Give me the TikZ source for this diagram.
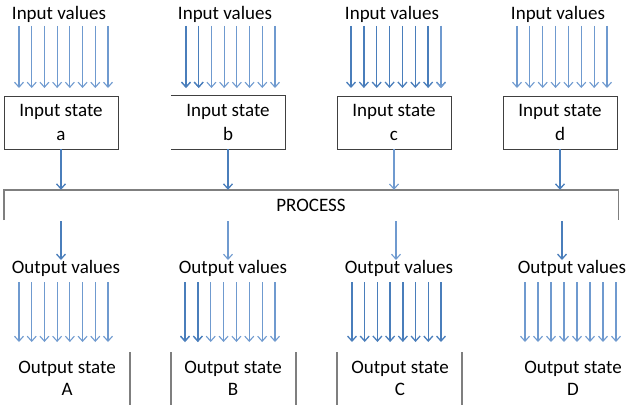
\documentclass[tikz,border=0pt]{standalone}
\usepackage{fontspec}
\setmainfont{Carlito}
\usetikzlibrary{arrows.meta}
\definecolor{arrA}{HTML}{4A7EBB}
\definecolor{arrB}{HTML}{6F9ACF}
\definecolor{boxgray}{HTML}{404040}
\definecolor{brgray}{HTML}{7F7F7F}
\tikzset{
  lbl/.style={font=\fontsize{19}{24}\selectfont, inner sep=0pt},
  stbox/.style={lbl, minimum width=114pt, minimum height=53pt, align=center},
  flow/.style={arrA, line width=1.3pt, -{Straight Barb[length=5pt,width=9pt]}},
  flowl/.style={arrB, line width=1.1pt, -{Straight Barb[length=5pt,width=9pt]}},
  edge/.style={boxgray, line width=0.9pt},
  sep/.style={brgray, line width=1.4pt},
}
\begin{document}
\begin{tikzpicture}[x=1pt,y=-1pt]
\useasboundingbox (0,0) rectangle (634,412);
% input labels
\node[lbl] (iva) at (59,14) {Input values};
\node[lbl] (ivb) at (225,14) {Input values};
\node[lbl] (ivc) at (392,14) {Input values};
\node[lbl] (ivd) at (558,14) {Input values};
% input boxes
\node[stbox,draw=boxgray,line width=0.9pt] (sa) at (61,122.5) {Input state\\a};
\node[stbox] (sb) at (228,122.5) {Input state\\b};
\draw[edge] (sb.north west) -- (sb.north east) -- (sb.south east) -- (sb.south west);
\node[stbox,draw=boxgray,line width=0.9pt] (sc) at (394,122.5) {Input state\\c};
\node[stbox,draw=boxgray,line width=0.9pt] (sd) at (560,122.5) {Input state\\d};
% input arrows
\foreach \g/\xs/\xe/\c in {a/19/108/flowl, b/186/275/flowl, c/351/441/flow, d/517/607/flowl}{
  \foreach \i in {0,...,7}{
    \pgfmathsetmacro{\xx}{\xs+\i*(\xe-\xs)/7}
    \coordinate (in\g\i) at (\xx,26);
    \coordinate (it\g\i) at (\xx,88);
    \draw[\c] (in\g\i) -- (it\g\i);
  }
}
\draw[flow] (inb0) -- (itb0);
\draw[flow] (inb1) -- (itb1);
\draw[flowl] (inc7) -- (itc7);
% process
\node[lbl, minimum width=614pt, minimum height=30pt] (proc) at (311,205) {PROCESS};
\draw[sep] (proc.south west) -- (proc.north west) -- (proc.north east) -- (proc.south east);
\draw[flow] (sa.south) -- (sa.south |- proc.north);
\draw[flow] (sb.south) -- (sb.south |- proc.north);
\draw[flowl] (sc.south) -- (sc.south |- proc.north);
\draw[flow] (sd.south) -- (sd.south |- proc.north);
% output labels
\node[lbl] (ova) at (66,268) {Output values};
\node[lbl] (ovb) at (233,268) {Output values};
\node[lbl] (ovc) at (399,268) {Output values};
\node[lbl] (ovd) at (572,268) {Output values};
\draw[flow] (61,221) coordinate (pa) -- (61,260) coordinate (qa);
\draw[flowl] (228,221) coordinate (pb) -- (228,260) coordinate (qb);
\draw[flowl] (396,221) coordinate (pc) -- (396,260) coordinate (qc);
\draw[flow] (562,221) coordinate (pd) -- (562,260) coordinate (qd);
% output arrows
\foreach \g/\xs/\xe/\c in {a/19/108/flowl, b/185/275/flowl, c/352/441/flow, d/525/616/flowl}{
  \foreach \i in {0,...,7}{
    \pgfmathsetmacro{\xx}{\xs+\i*(\xe-\xs)/7}
    \coordinate (on\g\i) at (\xx,282);
    \coordinate (ot\g\i) at (\xx,342);
    \draw[\c] (on\g\i) -- (ot\g\i);
  }
}
\draw[flow] (onb0) -- (otb0);
\draw[flow] (onb1) -- (otb1);
% output states
\node[lbl, font=\fontsize{19}{22}\selectfont, align=center] (oa) at (67,378) {Output state\\A};
\node[lbl, font=\fontsize{19}{22}\selectfont, align=center] (ob) at (233,378) {Output state\\B};
\node[lbl, font=\fontsize{19}{22}\selectfont, align=center] (oc) at (400,378) {Output state\\C};
\node[lbl, font=\fontsize{19}{22}\selectfont, align=center] (od) at (573,378) {Output state\\D};
\draw[sep] (130,352) -- (130,405);
\draw[sep] (171,352) -- (171,405);
\draw[sep] (296,352) -- (296,405);
\draw[sep] (337,352) -- (337,405);
\draw[sep] (462,352) -- (462,405);
\end{tikzpicture}
\end{document}
